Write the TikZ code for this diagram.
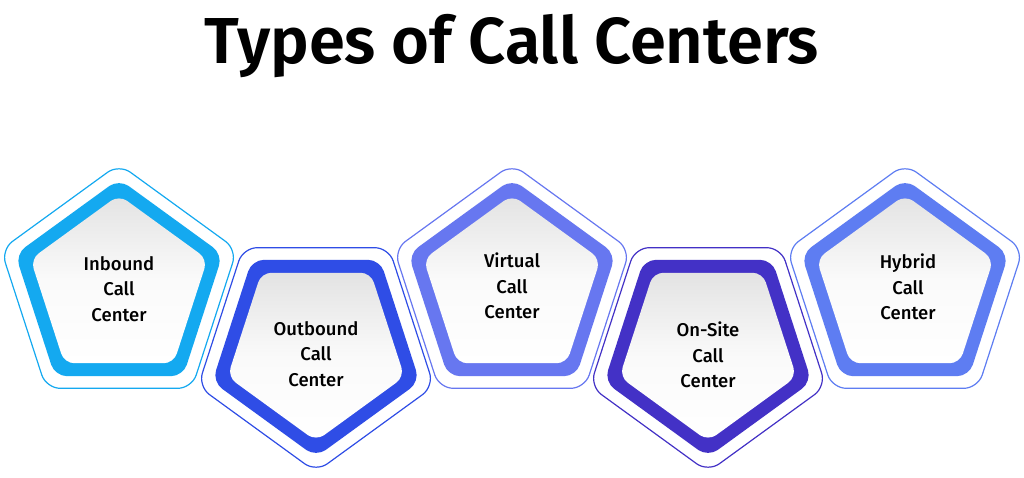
\documentclass[tikz,border=0pt]{standalone}
\usepackage{fontspec}
\setmainfont{Fira Sans Medium}
\newfontfamily\titlefont{Fira Sans SemiBold}
\definecolor{cA}{HTML}{14A9F0}
\definecolor{cB}{HTML}{2F4DE6}
\definecolor{cC}{HTML}{6777F0}
\definecolor{cD}{HTML}{4331C6}
\definecolor{cE}{HTML}{5E7DF2}
\newcommand{\pent}[5]{% x, y, rot, color, name
  \begin{scope}[shift={(#1,#2)}]
    \draw[#4, line width=1.2pt, fill=white, rounded corners=14pt]
      (#3:124) -- (#3+72:124) -- (#3+144:124) -- (#3+216:124) -- (#3+288:124) -- cycle;
    \fill[#4, rounded corners=12pt]
      (#3:109) -- (#3+72:109) -- (#3+144:109) -- (#3+216:109) -- (#3+288:109) -- cycle;
    \shade[top color=gray!22, bottom color=white, middle color=white!96!gray, rounded corners=10pt]
      (#3:93) -- (#3+72:93) -- (#3+144:93) -- (#3+216:93) -- (#3+288:93) -- cycle;
  \end{scope}}
\begin{document}
\begin{tikzpicture}[x=1pt,y=-1pt,
  lbl/.style={align=center, font=\fontsize{18.5}{25.5}\selectfont, text=black}]
\useasboundingbox (0,0) rectangle (1024,478);
\node[font=\titlefont\fontsize{65}{68}\selectfont] (title) at (512,46) {Types of Call Centers};
\pent{119}{288}{-90}{cA}{p1}
\pent{316}{348}{90}{cB}{p2}
\pent{512}{288}{-90}{cC}{p3}
\pent{708}{348}{90}{cD}{p4}
\pent{905}{288}{-90}{cE}{p5}
\node[lbl] (t1) at (119,289) {Inbound\\Call\\Center};
\node[lbl] (t2) at (316,354) {Outbound\\Call\\Center};
\node[lbl] (t3) at (512,286) {Virtual\\Call\\Center};
\node[lbl] (t4) at (708,355) {On-Site\\Call\\Center};
\node[lbl] (t5) at (908,287) {Hybrid\\Call\\Center};
\end{tikzpicture}
\end{document}
